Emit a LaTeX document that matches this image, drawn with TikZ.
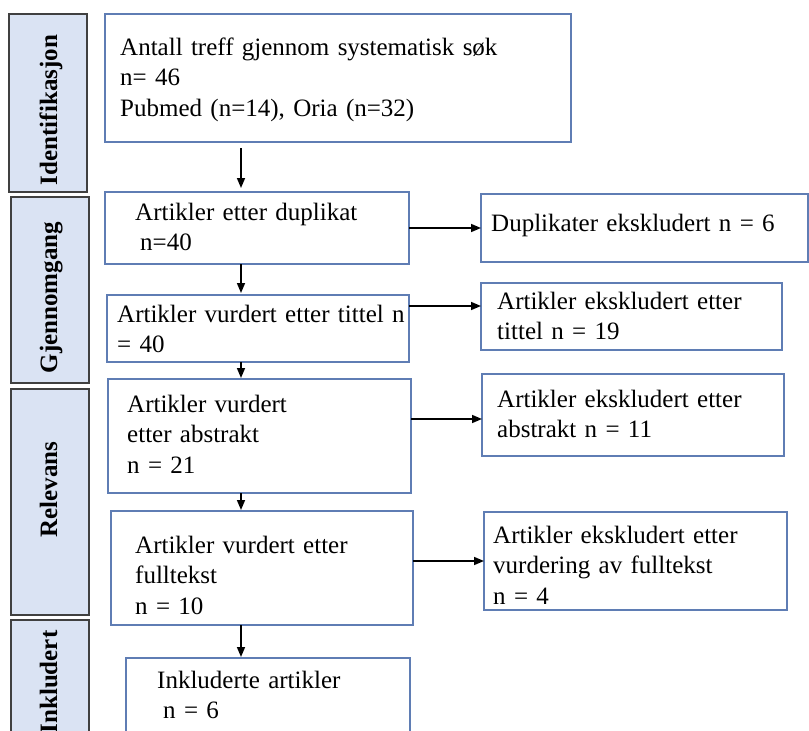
\documentclass[tikz,border=0pt]{standalone}
\usepackage{fontspec}
\setmainfont{Liberation Serif}
\usetikzlibrary{arrows.meta}
\definecolor{boxblue}{RGB}{95,125,180}
\definecolor{barfill}{RGB}{218,227,243}
\definecolor{barline}{RGB}{64,64,64}
\begin{document}
\begin{tikzpicture}[x=1pt,y=-1pt,
  box/.style={draw=boxblue, line width=1.2pt, fill=white, inner sep=0pt, outer sep=0pt, anchor=north west},
  bar/.style={draw=barline, line width=1.5pt, fill=barfill, inner sep=0pt, outer sep=0pt, anchor=north west, minimum width=78pt},
  txt/.style={anchor=base west, inner sep=0pt, align=left, text width=390pt, font=\fontsize{25}{30.5}\selectfont},
  lab/.style={anchor=base, rotate=90, inner sep=0pt, font=\bfseries\fontsize{25}{30}\selectfont},
  arr/.style={line width=1.6pt, black, -{Triangle[length=10pt,width=8pt]}}]
\useasboundingbox (0,0) rectangle (809,731);
\clip (0,0) rectangle (809,731);
% side bars
\node[bar, minimum height=178pt] (L1) at (9,14) {};
\node[bar, minimum height=186pt] (L2) at (11,197) {};
\node[bar, minimum height=226pt] (L3) at (11,389) {};
\node[bar, minimum height=140pt] (L4) at (11,620) {};
\node[lab] (l1) at (57,110) {Identifikasjon};
\node[lab] (l2) at (57,297.5) {Gjennomgang};
\node[lab] (l3) at (57,489.5) {Relevans};
\node[lab] (l4) at (57,682) {Inkludert};
% main boxes
\node[box, minimum width=466pt, minimum height=128pt] (b1) at (105,14) {};
\node[box, minimum width=304pt, minimum height=72pt] (b2) at (105,192) {};
\node[box, minimum width=302pt, minimum height=67pt] (b3) at (107,295) {};
\node[box, minimum width=303pt, minimum height=114pt] (b4) at (108,379) {};
\node[box, minimum width=302pt, minimum height=114pt] (b5) at (111,511) {};
\node[box, minimum width=284pt, minimum height=110pt] (b6) at (126,658) {};
% right boxes
\node[box, minimum width=327pt, minimum height=68pt] (r1) at (481,194) {};
\node[box, minimum width=301pt, minimum height=67pt] (r2) at (481,283) {};
\node[box, minimum width=302pt, minimum height=82pt] (r3) at (482,374) {};
\node[box, minimum width=303pt, minimum height=98pt] (r4) at (484,512) {};
% texts
\node[txt] (t1) at (120,55) {Antall treff gjennom systematisk søk\\n= 46\\Pubmed (n=14), Oria (n=32)};
\node[txt] (t2) at (135,220) {Artikler etter duplikat\\\hspace*{5pt}n=40};
\node[txt] (t3) at (117,322) {Artikler vurdert etter tittel n\\= 40};
\node[txt] (t4) at (127,412) {Artikler vurdert\\etter abstrakt\\n = 21};
\node[txt] (t5) at (135,553) {Artikler vurdert etter\\fulltekst\\n = 10};
\node[txt] (t6) at (157,688) {Inkluderte artikler\\\hspace*{6pt}n = 6};
\node[txt] (u1) at (491,231) {Duplikater ekskludert n = 6};
\node[txt] (u2) at (497,309) {Artikler ekskludert etter\\tittel n = 19};
\node[txt] (u3) at (497,407) {Artikler ekskludert etter\\abstrakt n = 11};
\node[txt] (u4) at (493,543) {Artikler ekskludert etter\\vurdering av fulltekst\\n = 4};
% vertical arrows
\coordinate (c) at (241,0);
\draw[arr, shorten <=6pt, shorten >=4pt] (b1.south -| c) -- (b2.north -| c);
\draw[arr, shorten >=2pt] (b2.south -| c) -- (b3.north -| c);
\draw[arr, shorten >=1pt] (b3.south -| c) -- (b4.north -| c);
\draw[arr, shorten >=1pt] (b4.south -| c) -- (b5.north -| c);
\draw[arr, shorten >=1pt] (b5.south -| c) -- (b6.north -| c);
% horizontal arrows
\coordinate (h1) at (0,228);
\coordinate (h2) at (0,306);
\coordinate (h3) at (0,419);
\coordinate (h4) at (0,561);
\draw[arr] (b2.east |- h1) -- (r1.west |- h1);
\draw[arr] (b3.east |- h2) -- (r2.west |- h2);
\draw[arr] (b4.east |- h3) -- (r3.west |- h3);
\draw[arr] (b5.east |- h4) -- (r4.west |- h4);
\end{tikzpicture}
\end{document}
